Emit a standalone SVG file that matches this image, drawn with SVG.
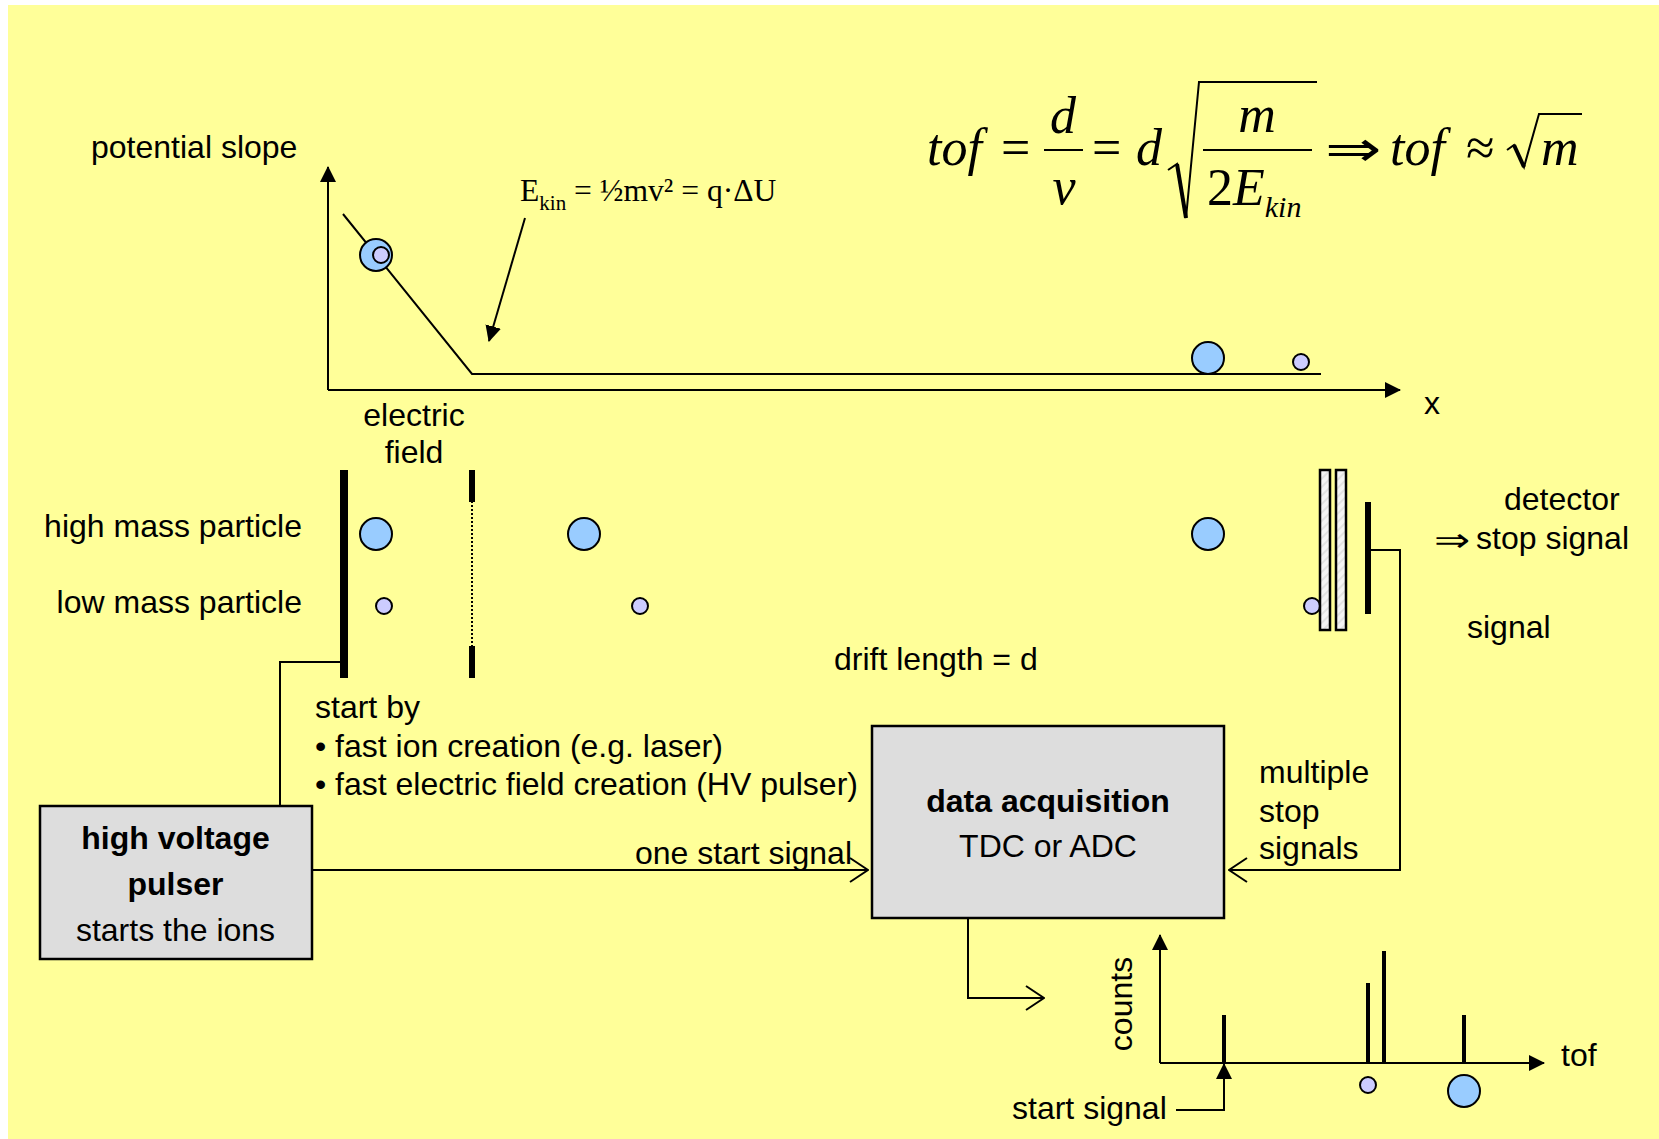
<svg xmlns="http://www.w3.org/2000/svg" width="1659" height="1139" viewBox="0 0 1659 1139">
<style>
text{font-family:"Liberation Sans",Arial,sans-serif;font-size:32px;fill:#000}
.c{text-anchor:middle}.r{text-anchor:end}.b{font-weight:bold}
.s{font-family:"Liberation Serif","Times New Roman",serif;font-size:31.600px}
.m{font-family:"Liberation Serif","Times New Roman",serif;font-style:italic;font-size:52px}
.u{font-family:"Liberation Serif","Times New Roman",serif;font-size:52px}
.l{fill:none;stroke:#000;stroke-width:2}
.big{fill:#99CCFF;stroke:#000;stroke-width:2}
.small{fill:#CCCCFF;stroke:#000;stroke-width:2}
.box{fill:#DDDDDD;stroke:#000;stroke-width:2.5}
.thick{fill:#000;stroke:none}
</style>
<defs>
<marker id="tri" markerWidth="16" markerHeight="16" refX="15" refY="8" orient="auto" markerUnits="userSpaceOnUse"><path d="M0 0L16 8L0 16Z" fill="#000"/></marker>
<marker id="open" markerWidth="20" markerHeight="26" refX="19" refY="13" orient="auto" markerUnits="userSpaceOnUse"><path d="M1 1L19 13L1 25" fill="none" stroke="#000" stroke-width="2"/></marker>
<pattern id="hatch" width="6" height="6" patternUnits="userSpaceOnUse" patternTransform="rotate(-45)"><rect width="6" height="6" fill="#F4F4F4"/><rect width="6" height="2" fill="#E2E2E2"/></pattern>
</defs>
<rect id="background" x="8" y="5" width="1651" height="1134" fill="#FFFF99"/>

<g id="connectors">
<path class="l" d="M328 390V167" marker-end="url(#tri)"/>
<path class="l" d="M328 390H1400" marker-end="url(#tri)"/>
<path class="l" d="M343 214L472 374H1321"/>
<path class="l" d="M525 218L489 341" marker-end="url(#tri)"/>
<path class="l" d="M340 662H280V805"/>
<path class="l" d="M1371 550H1400V870H1229" marker-end="url(#open)"/>
<path class="l" d="M312 870H868" marker-end="url(#open)"/>
<path class="l" d="M968 918V998H1044" marker-end="url(#open)"/>
<path class="l" d="M1160 1063V935" marker-end="url(#tri)"/>
<path class="l" d="M1160 1063H1544" marker-end="url(#tri)"/>
<path class="l" d="M1176 1110H1224V1064" marker-end="url(#tri)"/>
<path class="l" d="M472 501V646" stroke-dasharray="2 2"/>
</g>

<g id="potential-plot">
<circle class="big" cx="376" cy="255" r="16"/>
<circle class="small" cx="381" cy="255" r="8"/>
<circle class="big" cx="1208" cy="358" r="16"/>
<circle class="small" cx="1301" cy="362" r="8"/>
<text x="91" y="158">potential slope</text>
<text x="1424" y="414">x</text>
<text class="s" x="520" y="201">E<tspan font-size="21" dy="9">kin</tspan><tspan dy="-9"> = ½mv² = q·ΔU</tspan></text>
</g>

<g id="formula">
<text class="m" x="927" y="165">tof</text>
<text class="u" x="1001" y="165">=</text>
<text class="m c" x="1063" y="133">d</text>
<path d="M1044 150H1083M1203 150H1312" class="l"/>
<text class="m c" x="1064" y="204">v</text>
<text class="u" x="1092" y="165">=</text>
<text class="m" x="1136" y="165">d</text>
<path class="l" d="M1168 170L1177 164L1186 218L1199 82H1317"/>
<path d="M1177 164L1186 218" fill="none" stroke="#000" stroke-width="4"/>
<text class="m c" x="1257" y="132">m</text>
<text class="u" x="1207" y="205">2<tspan font-style="italic">E</tspan><tspan font-style="italic" font-size="30" dy="12">kin</tspan></text>
<text transform="translate(1325 166) scale(1.35 1)" style="font-family:'DejaVu Sans',sans-serif;font-size:50px">⇒</text>
<text class="m" x="1390" y="165">tof</text>
<text class="u" x="1466" y="165">≈</text>
<path class="l" d="M1507 150L1514 145L1524 167L1539 114H1582"/>
<path d="M1514 145L1524 167" fill="none" stroke="#000" stroke-width="4"/>
<text class="m" x="1541" y="165">m</text>
</g>

<g id="accelerator">
<rect class="thick" x="340" y="470" width="8" height="208"/>
<rect class="thick" x="469" y="470" width="6" height="32"/>
<rect class="thick" x="469" y="646" width="6" height="32"/>
<text class="c" x="414" y="426">electric</text>
<text class="c" x="414" y="463">field</text>
<text class="r" x="302" y="537">high mass particle</text>
<text class="r" x="302" y="613">low mass particle</text>
</g>

<g id="particles">
<circle class="big" cx="376" cy="534" r="16"/>
<circle class="big" cx="584" cy="534" r="16"/>
<circle class="big" cx="1208" cy="534" r="16"/>
<circle class="small" cx="384" cy="606" r="8"/>
<circle class="small" cx="640" cy="606" r="8"/>
<circle class="small" cx="1312" cy="606" r="8"/>
</g>

<g id="detector">
<rect x="1320" y="470" width="10" height="160" fill="url(#hatch)" stroke="#000" stroke-width="2.5"/>
<rect x="1336" y="470" width="10" height="160" fill="url(#hatch)" stroke="#000" stroke-width="2.5"/>
<rect class="thick" x="1365" y="502" width="6" height="112"/>
<text transform="translate(1434 551) scale(1.35 1)" style="font-family:'DejaVu Sans',sans-serif;font-size:32px">⇒</text>
<text x="1504" y="510">detector</text>
<text x="1476" y="549">stop signal</text>
<text x="1467" y="638">signal</text>
</g>

<g id="notes">
<text x="834" y="670">drift length = d</text>
<text x="315" y="718">start by</text>
<text x="315" y="757">• fast ion creation (e.g. laser)</text>
<text x="315" y="795">• fast electric field creation (HV pulser)</text>
<text x="635" y="864">one start signal</text>
<text x="1259" y="783">multiple</text>
<text x="1259" y="822">stop</text>
<text x="1259" y="859">signals</text>
</g>

<g id="pulser">
<rect class="box" x="40" y="806" width="272" height="153"/>
<text class="c b" x="175.500" y="849">high voltage</text>
<text class="c b" x="175.500" y="895">pulser</text>
<text class="c" x="175.500" y="941">starts the ions</text>
</g>

<g id="data-acquisition">
<rect class="box" x="872" y="726" width="352" height="192"/>
<text class="c b" x="1048" y="812">data acquisition</text>
<text class="c" x="1048" y="857">TDC or ADC</text>
</g>

<g id="histogram">
<rect class="thick" x="1222" y="1015" width="4" height="48"/>
<rect class="thick" x="1366" y="983" width="4" height="80"/>
<rect class="thick" x="1382" y="951" width="4" height="112"/>
<rect class="thick" x="1462" y="1015" width="4" height="48"/>
<circle class="small" cx="1368" cy="1085" r="8"/>
<circle class="big" cx="1464" cy="1091" r="16"/>
<text class="c" transform="translate(1132 1004) rotate(-90)">counts</text>
<text x="1561" y="1066">tof</text>
<text x="1012" y="1119">start signal</text>
</g>
</svg>
